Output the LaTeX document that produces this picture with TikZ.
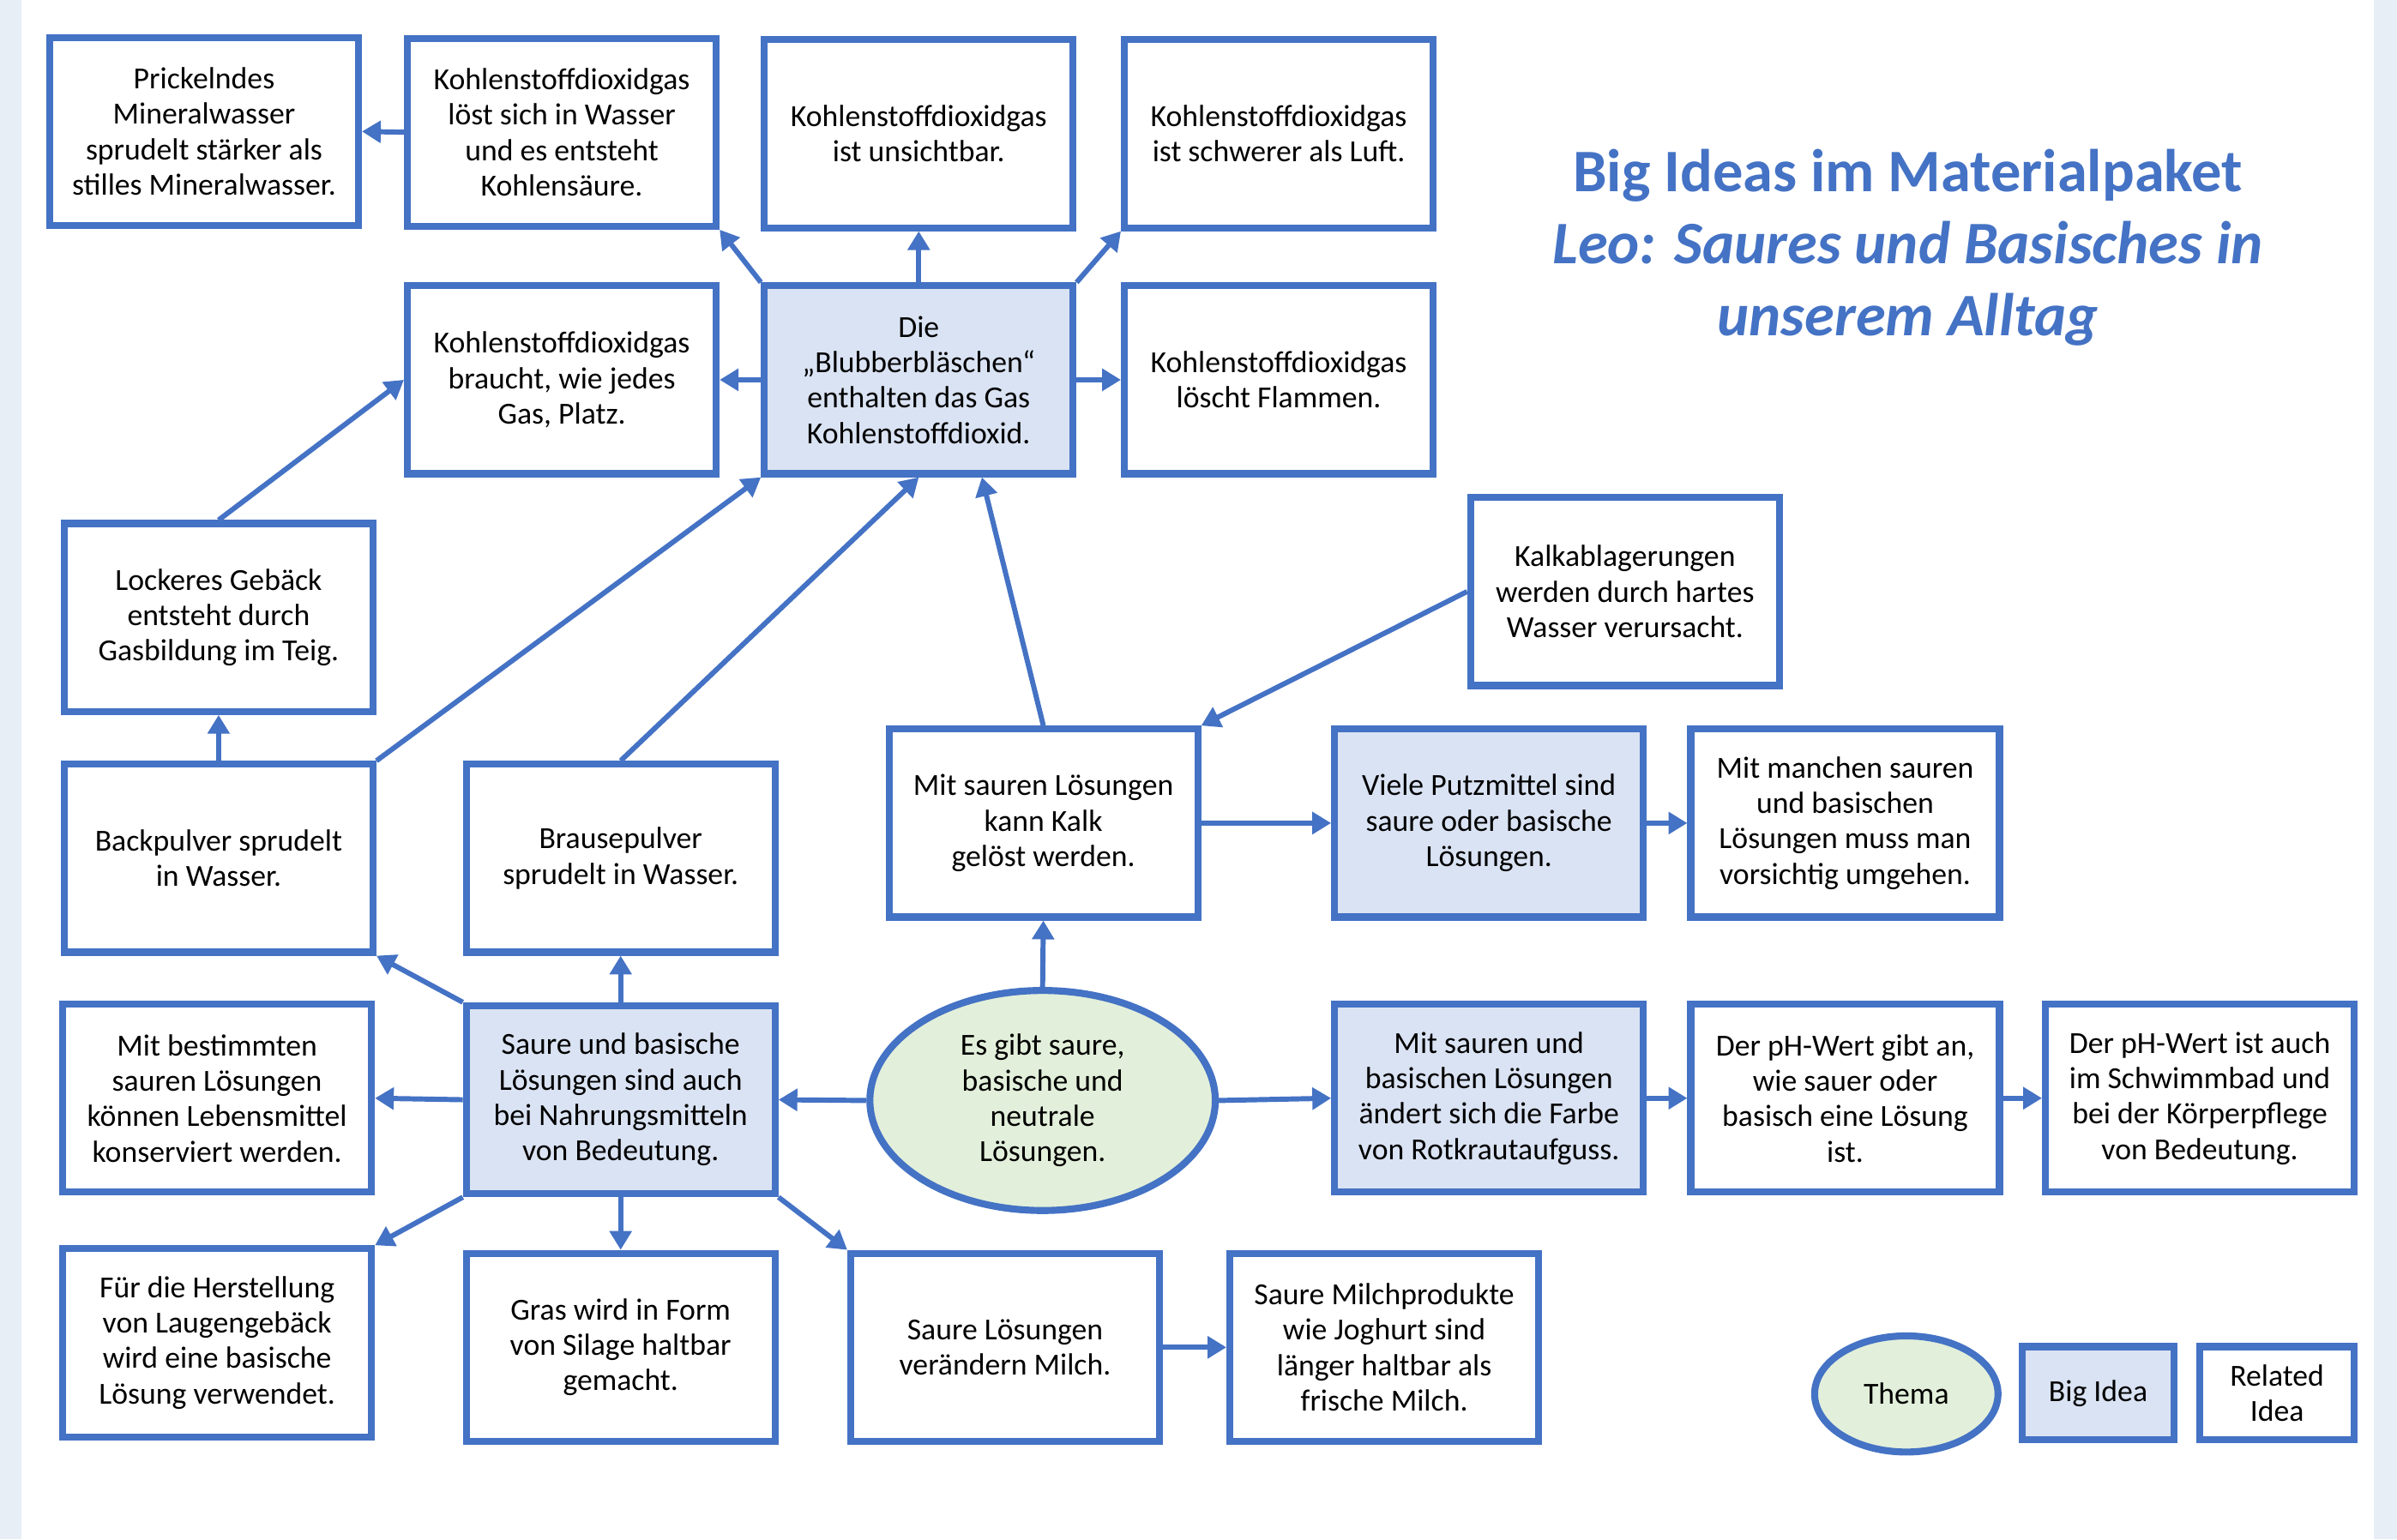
\documentclass[tikz,border=0pt]{standalone}
\usepackage{fontspec}
\setmainfont{Carlito}
\usepackage{tikz}
\usetikzlibrary{calc}
\usetikzlibrary{shapes}
\usetikzlibrary{arrows.meta}
\definecolor[named]{IdeaBlue}{HTML}{4472C4}
\definecolor[named]{BigFill}{HTML}{DAE3F3}
\definecolor[named]{ThemaFill}{HTML}{E2EFDA}
\definecolor[named]{PageTint}{HTML}{E8EEF6}
\newcommand{\boxfont}{\fontsize{11.4}{13.2}\selectfont}
\tikzset{
  idea/.style={draw=IdeaBlue, line width=2.6pt, minimum width=4.04cm,
    minimum height=2.46cm, align=center, inner sep=1pt, font=\boxfont},
  related/.style={idea, fill=white},
  bigidea/.style={idea, fill=BigFill},
  thema/.style={ellipse, draw=IdeaBlue, line width=2.6pt, fill=ThemaFill,
    align=center, inner sep=0pt, font=\boxfont},
  link/.style={IdeaBlue, line width=1.9pt, -{Triangle[length=7pt,width=8pt]}},
  title/.style={IdeaBlue, align=center, font=\fontsize{22.5}{26.7}\selectfont\bfseries}
}

\begin{document}
\begin{tikzpicture}[x=0.02cm,y=-0.02cm]

    % Frame
    \useasboundingbox (0,0) rectangle (1568,1007);
    \fill[PageTint] (0,0) rectangle (14,1007);
    \fill[PageTint] (1553,0) rectangle (1568,1007);

    % Title
    \node[title] (title) at (1248,162)
      {Big Ideas im Materialpaket\\
       \textit{Leo: Saures und Basisches in}\\
       \textit{unserem Alltag}};

    % Top rows
    \node[related] (prickelnd) at (133.5,86)
      {Prickelndes\\Mineralwasser\\sprudelt stärker als\\stilles Mineralwasser.};
    \node[related] (loest) at (367.5,86.5)
      {Kohlenstoffdioxidgas\\löst sich in Wasser\\und es entsteht\\Kohlensäure.};
    \node[related] (unsichtbar) at (601,87.5)
      {Kohlenstoffdioxidgas\\ist unsichtbar.};
    \node[related] (schwerer) at (836.5,87.5)
      {Kohlenstoffdioxidgas\\ist schwerer als Luft.};
    \node[related] (braucht) at (367.5,248.5)
      {Kohlenstoffdioxidgas\\braucht, wie jedes\\Gas, Platz.};
    \node[bigidea] (blubber) at (601,248.5)
      {Die\\„Blubberbläschen“\\enthalten das Gas\\Kohlenstoffdioxid.};
    \node[related] (loescht) at (836.5,248.5)
      {Kohlenstoffdioxidgas\\löscht Flammen.};

    % Middle rows
    \node[related] (lockeres) at (143,404)
      {Lockeres Gebäck\\entsteht durch\\Gasbildung im Teig.};
    \node[related] (kalkabl) at (1063,387)
      {Kalkablagerungen\\werden durch hartes\\Wasser verursacht.};
    \node[related] (backpulver) at (143,561.5)
      {Backpulver sprudelt\\in Wasser.};
    \node[related] (brause) at (406,561.5)
      {Brausepulver\\sprudelt in Wasser.};
    \node[related] (kalk) at (682.5,538.5)
      {Mit sauren Lösungen\\kann Kalk\\gelöst werden.};
    \node[bigidea] (putz) at (974,538.5)
      {Viele Putzmittel sind\\saure oder basische\\Lösungen.};
    \node[related] (vorsicht) at (1207,538.5)
      {Mit manchen sauren\\und basischen\\Lösungen muss man\\vorsichtig umgehen.};

    % Thema row
    \node[related] (konserv) at (142,718.5)
      {Mit bestimmten\\sauren Lösungen\\können Lebensmittel\\konserviert werden.};
    \node[bigidea] (nahrung) at (406,719.5)
      {Saure und basische\\Lösungen sind auch\\bei Nahrungsmitteln\\von Bedeutung.};
    \node[thema, minimum width=4.52cm, minimum height=2.88cm] (thema) at (682,720)
      {Es gibt saure,\\basische und\\neutrale\\Lösungen.};
    \node[bigidea] (rotkraut) at (974,718.5)
      {Mit sauren und\\basischen Lösungen\\ändert sich die Farbe\\von Rotkrautaufguss.};
    \node[related] (phwert) at (1207,718.5)
      {Der pH-Wert gibt an,\\wie sauer oder\\basisch eine Lösung\\ist.};
    \node[related] (schwimm) at (1439,718.5)
      {Der pH-Wert ist auch\\im Schwimmbad und\\bei der Körperpflege\\von Bedeutung.};

    % Bottom row
    \node[related] (laugen) at (142,878.5)
      {Für die Herstellung\\von Laugengebäck\\wird eine basische\\Lösung verwendet.};
    \node[related] (gras) at (406,881.5)
      {Gras wird in Form\\von Silage haltbar\\gemacht.};
    \node[related] (milch) at (657.5,881.5)
      {Saure Lösungen\\verändern Milch.};
    \node[related] (joghurt) at (905.5,881.5)
      {Saure Milchprodukte\\wie Joghurt sind\\länger haltbar als\\frische Milch.};

    % Legend
    \node[thema, minimum width=2.4cm, minimum height=1.52cm] (legthema) at (1247,912) {Thema};
    \node[bigidea, minimum width=1.98cm, minimum height=1.22cm] (legbig) at (1372.5,911.5) {Big Idea};
    \node[related, minimum width=2.02cm, minimum height=1.22cm] (legrel) at (1489.5,911.5) {Related\\Idea};

    % Arrows
    \draw[link] (loest.west) -- (prickelnd.east);
    \draw[link] (blubber.north west) -- (loest.south east);
    \draw[link] (blubber.north) -- (unsichtbar.south);
    \draw[link] (blubber.north east) -- (schwerer.south west);
    \draw[link] (blubber.west) -- (braucht.east);
    \draw[link] (blubber.east) -- (loescht.west);
    \draw[link] (lockeres.north) -- (braucht.west);
    \draw[link] (backpulver.north) -- (lockeres.south);
    \draw[link] (backpulver.north east) -- (blubber.south west);
    \draw[link] (brause.north) -- (blubber.south);
    \draw[link] (kalk.north) -- ($(blubber.south)!0.4!(blubber.south east)$);
    \draw[link] (kalkabl.west) -- (kalk.north east);
    \draw[link] (kalk.east) -- (putz.west);
    \draw[link] (putz.east) -- (vorsicht.west);
    \draw[link] (thema.north) -- (kalk.south);
    \draw[link] (thema.west) -- (nahrung.east);
    \draw[link] (thema.east) -- (rotkraut.west);
    \draw[link] (rotkraut.east) -- (phwert.west);
    \draw[link] (phwert.east) -- (schwimm.west);
    \draw[link] (nahrung.north west) -- (backpulver.south east);
    \draw[link] (nahrung.north) -- (brause.south);
    \draw[link] (nahrung.west) -- (konserv.east);
    \draw[link] (nahrung.south west) -- (laugen.north east);
    \draw[link] (nahrung.south) -- (gras.north);
    \draw[link] (nahrung.south east) -- (milch.north west);
    \draw[link] (milch.east) -- (joghurt.west);

\end{tikzpicture}
\end{document}
